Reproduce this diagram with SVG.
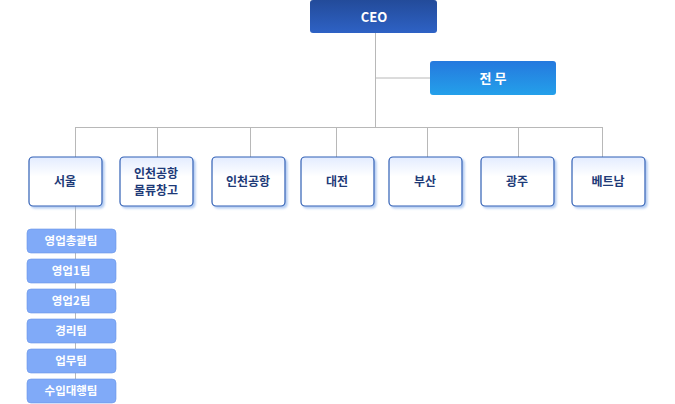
<svg xmlns="http://www.w3.org/2000/svg" width="675" height="404" viewBox="0 0 675 404">
<style>
.t{font-family:"Noto Sans CJK KR","Noto Sans",sans-serif;font-weight:bold;text-anchor:middle}
.w{fill:#fff;font-size:13px}
.b{fill:#1e3a78;font-size:12px}
.s{fill:#fff;font-size:11.5px}
.br{fill:url(#gb);stroke:#2f5fb5;stroke-width:1.2;filter:url(#sh)}
.sub{fill:#80aaf8;stroke:#6a96e6;stroke-width:0.6}
</style>
<defs>
<linearGradient id="gc" x1="0" y1="0" x2="0" y2="1"><stop offset="0" stop-color="#234b9a"/><stop offset="1" stop-color="#2e62c5"/></linearGradient>
<linearGradient id="gj" x1="0" y1="0" x2="0" y2="1"><stop offset="0" stop-color="#2579de"/><stop offset="1" stop-color="#24a0ea"/></linearGradient>
<linearGradient id="gb" x1="0" y1="0" x2="0" y2="1"><stop offset="0" stop-color="#e3ecff"/><stop offset="0.4" stop-color="#ffffff"/><stop offset="1" stop-color="#ffffff"/></linearGradient>
<filter id="sh" x="-10%" y="-10%" width="130%" height="130%"><feDropShadow dx="2" dy="2" stdDeviation="1.2" flood-color="#7fa8e8" flood-opacity="0.6"/></filter>
</defs>
<g id="connectors" stroke="#b8b8b8" stroke-width="1" fill="none">
<path d="M375.5 33V127M375.5 78H430M75.5 127.5H602.5M75.5 127V157M157.5 127V157M250.5 127V157M336.5 127V157M427.5 127V157M518.5 127V157M602.5 127V157M75.5 206V390"/>
</g>
<g id="ceo"><rect x="310" y="0" width="127" height="33" rx="3" fill="url(#gc)"/><text class="t w" x="374" y="22">CEO</text></g>
<g id="jeonmu"><rect x="430" y="61" width="126" height="34" rx="3" fill="url(#gj)"/><text class="t w" x="493" y="83">전 무</text></g>
<g id="seoul"><rect class="br" x="29" y="157" width="73" height="49" rx="4"/><text class="t b" x="65" y="186">서울</text></g>
<g id="incheon-logis"><rect class="br" x="120" y="157" width="73" height="49" rx="4"/><text class="t b" x="156" y="178">인천공항</text><text class="t b" x="156" y="195">물류창고</text></g>
<g id="incheon"><rect class="br" x="212" y="157" width="73" height="49" rx="4"/><text class="t b" x="248" y="186">인천공항</text></g>
<g id="daejeon"><rect class="br" x="301" y="157" width="73" height="49" rx="4"/><text class="t b" x="337" y="186">대전</text></g>
<g id="busan"><rect class="br" x="389" y="157" width="73" height="49" rx="4"/><text class="t b" x="425" y="186">부산</text></g>
<g id="gwangju"><rect class="br" x="481" y="157" width="73" height="49" rx="4"/><text class="t b" x="517" y="186">광주</text></g>
<g id="vietnam"><rect class="br" x="572" y="157" width="73" height="49" rx="4"/><text class="t b" x="608" y="186">베트남</text></g>
<g id="t1"><rect class="sub" x="27" y="229" width="89" height="24" rx="4"/><text class="t s" x="71" y="245">영업총괄팀</text></g>
<g id="t2"><rect class="sub" x="27" y="259" width="89" height="24" rx="4"/><text class="t s" x="71" y="275">영업1팀</text></g>
<g id="t3"><rect class="sub" x="27" y="289" width="89" height="24" rx="4"/><text class="t s" x="71" y="305">영업2팀</text></g>
<g id="t4"><rect class="sub" x="27" y="319" width="89" height="24" rx="4"/><text class="t s" x="71" y="335">경리팀</text></g>
<g id="t5"><rect class="sub" x="27" y="349" width="89" height="24" rx="4"/><text class="t s" x="71" y="365">업무팀</text></g>
<g id="t6"><rect class="sub" x="27" y="379" width="89" height="24" rx="4"/><text class="t s" x="71" y="395">수입대행팀</text></g>
</svg>
